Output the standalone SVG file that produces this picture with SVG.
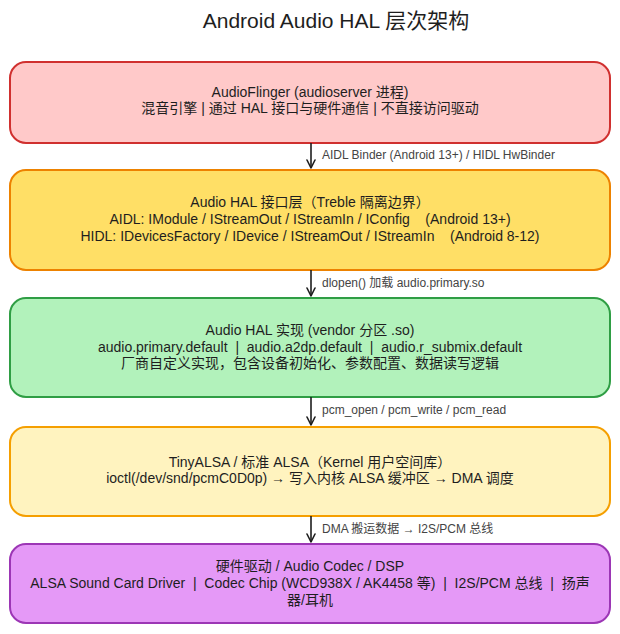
<svg xmlns="http://www.w3.org/2000/svg" width="620" height="634" viewBox="0 0 620 634">
<defs>
<marker id="arr" viewBox="0 0 10 10" refX="9" refY="5" markerWidth="10" markerHeight="10" orient="auto" markerUnits="userSpaceOnUse">
<path d="M1,1 L9,5 L1,9" fill="none" stroke="#1e1e1e" stroke-width="1.6" stroke-linecap="round" stroke-linejoin="round"/>
</marker>
<style>
text{font-family:"Liberation Sans","Noto Sans CJK SC",sans-serif;fill:#1e1e1e;white-space:pre;}
.t{font-size:14px;text-anchor:middle;}
.title{font-size:21px;text-anchor:middle;}
.lbl{font-size:12px;fill:#444;}
.box{stroke-width:2;}
.conn line{stroke:#1e1e1e;stroke-width:1.6;marker-end:url(#arr);}
</style>
</defs>
<rect width="620" height="634" fill="#ffffff"/>
<text class="title" x="336" y="28" xml:space="preserve">Android Audio HAL 层次架构</text>

<g id="node-audioflinger">
<rect class="box" x="10" y="62" width="600" height="81" rx="16" fill="#ffc9c9" stroke="#d0302f"/>
<text class="t" x="310" y="97" xml:space="preserve">AudioFlinger (audioserver 进程)</text>
<text class="t" x="310" y="113" xml:space="preserve">混音引擎 | 通过 HAL 接口与硬件通信 | 不直接访问驱动</text>
</g>

<g id="node-hal-interface">
<rect class="box" x="10" y="170" width="600" height="100" rx="16" fill="#ffdf66" stroke="#ed8200"/>
<text class="t" x="310" y="207" xml:space="preserve">Audio HAL 接口层（Treble 隔离边界）</text>
<text class="t" x="310" y="224" xml:space="preserve">AIDL: IModule / IStreamOut / IStreamIn / IConfig    (Android 13+)</text>
<text class="t" x="310" y="241" xml:space="preserve">HIDL: IDevicesFactory / IDevice / IStreamOut / IStreamIn    (Android 8-12)</text>
</g>

<g id="node-hal-impl">
<rect class="box" x="10" y="298" width="600" height="99" rx="16" fill="#b2f2bb" stroke="#2f9e44"/>
<text class="t" x="310" y="335" xml:space="preserve">Audio HAL 实现 (vendor 分区 .so)</text>
<text class="t" x="310" y="352" xml:space="preserve">audio.primary.default  |  audio.a2dp.default  |  audio.r_submix.default</text>
<text class="t" x="310" y="368" xml:space="preserve">厂商自定义实现，包含设备初始化、参数配置、数据读写逻辑</text>
</g>

<g id="node-tinyalsa">
<rect class="box" x="10" y="427" width="600" height="89" rx="16" fill="#fff3bf" stroke="#f59f00"/>
<text class="t" x="310" y="467" xml:space="preserve">TinyALSA / 标准 ALSA（Kernel 用户空间库）</text>
<text class="t" x="310" y="483" xml:space="preserve">ioctl(/dev/snd/pcmC0D0p) → 写入内核 ALSA 缓冲区 → DMA 调度</text>
</g>

<g id="node-hardware">
<rect class="box" x="10" y="544" width="600" height="79" rx="16" fill="#e599f7" stroke="#9c36b5"/>
<text class="t" x="310" y="571" xml:space="preserve">硬件驱动 / Audio Codec / DSP</text>
<text class="t" x="310" y="588" xml:space="preserve">ALSA Sound Card Driver  |  Codec Chip (WCD938X / AK4458 等)  |  I2S/PCM 总线  |  扬声</text>
<text class="t" x="310" y="605" xml:space="preserve">器/耳机</text>
</g>

<g id="connectors" class="conn">
<line x1="311" y1="143" x2="311" y2="168"/>
<line x1="311" y1="270" x2="311" y2="296"/>
<line x1="311" y1="397" x2="311" y2="425"/>
<line x1="311" y1="516" x2="311" y2="542"/>
<text class="lbl" x="322" y="159" xml:space="preserve">AIDL Binder (Android 13+) / HIDL HwBinder</text>
<text class="lbl" x="322" y="287" xml:space="preserve">dlopen() 加载 audio.primary.so</text>
<text class="lbl" x="322" y="414" xml:space="preserve">pcm_open / pcm_write / pcm_read</text>
<text class="lbl" x="322" y="533" xml:space="preserve">DMA 搬运数据 → I2S/PCM 总线</text>
</g>
</svg>
